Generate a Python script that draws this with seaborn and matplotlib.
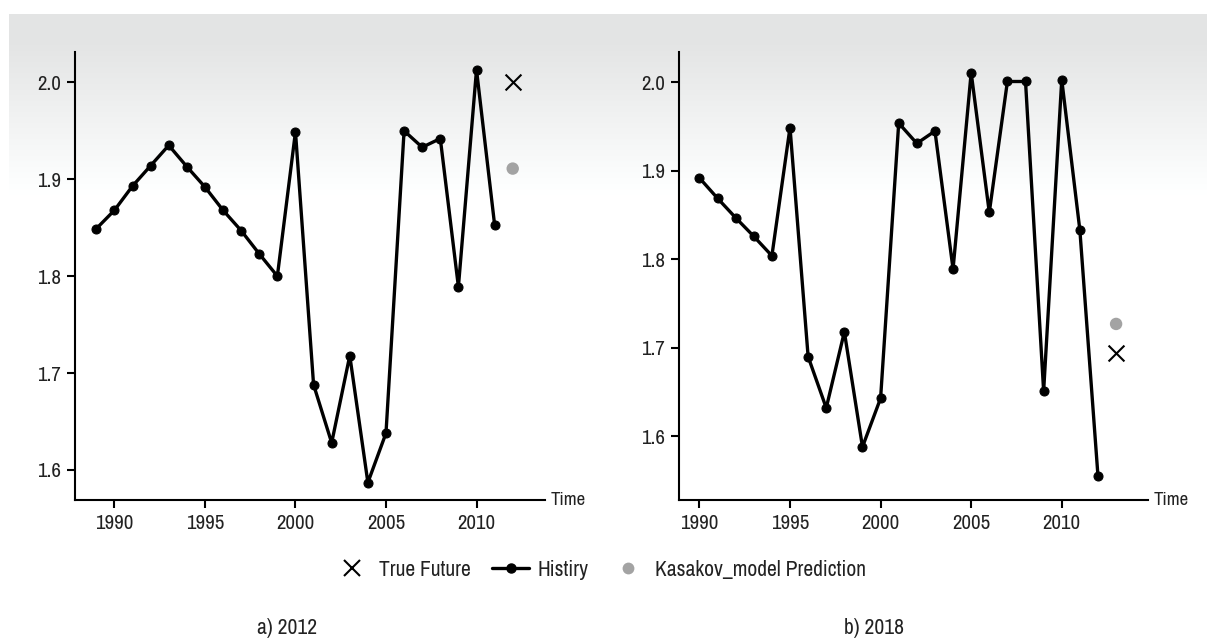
import numpy as np
import pandas as pd
import matplotlib.pyplot as plt
from matplotlib import font_manager as fm
from matplotlib.lines import Line2D
import seaborn as sns

# panel a) 2012
years_a = list(range(1989, 2012))
hist_a = [1.849, 1.868, 1.893, 1.914, 1.935, 1.913, 1.892, 1.868, 1.847, 1.823,
          1.800, 1.949, 1.688, 1.628, 1.718, 1.587, 1.638, 1.950, 1.933, 1.942,
          1.789, 2.013, 1.853]
future_year_a = 2012
true_a = 2.000
pred_a = 1.911

# panel b) 2018
years_b = list(range(1990, 2013))
hist_b = [1.892, 1.869, 1.847, 1.826, 1.804, 1.949, 1.690, 1.632, 1.718, 1.588,
          1.643, 1.954, 1.931, 1.945, 1.789, 2.011, 1.853, 2.001, 2.001, 1.651,
          2.003, 1.833, 1.555]
future_year_b = 2013
true_b = 1.694
pred_b = 1.727

captions = ["a) 2012", "b) 2018"]
legend_labels = ["True Future", "Histiry", "Kasakov_model Prediction"]
y_ticks = [1.6, 1.7, 1.8, 1.9, 2.0]
x_ticks = [1990, 1995, 2000, 2005, 2010]

sns.set_theme(style="ticks")

# look for a narrow / condensed face among the installed fonts
narrow = None
for f in fm.fontManager.ttflist:
    name = f.name.lower()
    if 'narrow' in name or 'condensed' in name:
        narrow = f.name
        break
if narrow is None:
    for f in fm.fontManager.ttflist:
        if f.stretch in ('condensed', 'semi-condensed', 'extra-condensed') and f.weight in (400, 'normal', 'regular'):
            narrow = f.name
            plt.rcParams['font.stretch'] = f.stretch
            break
plt.rcParams['font.family'] = [narrow or 'DejaVu Sans', 'DejaVu Sans']

W, H = 1207, 638
fig = plt.figure(figsize=(W / 100, H / 100), dpi=100)

# grey-to-white band at the top
bg = fig.add_axes([9 / W, 1 - 195 / H, 1 - 9 / W, 181 / H], zorder=0)
grad = np.concatenate([np.full(50, 0.893), np.linspace(0.893, 1.0, 256)])
rgb = np.stack([grad, grad + 0.004, grad + 0.004], axis=1).clip(0, 1)[:, None, :]
bg.imshow(rgb, aspect='auto', extent=[0, 1, 0, 1])
bg.axis('off')

panels = [
    dict(rect=[74.6 / W, 138 / H, 470.7 / W, 447.7 / H], years=years_a, hist=hist_a,
         fy=future_year_a, true=true_a, pred=pred_a, xlim=(1987.8, 2013.8),
         ylim=(1.569, 2.031), cap_x=287 / W),
    dict(rect=[678.6 / W, 138 / H, 469.2 / W, 447.7 / H], years=years_b, hist=hist_b,
         fy=future_year_b, true=true_b, pred=pred_b, xlim=(1988.85, 2014.75),
         ylim=(1.528, 2.034), cap_x=874 / W),
]

for p, cap in zip(panels, captions):
    ax = fig.add_axes(p['rect'], zorder=2)
    ax.set_facecolor('none')
    df = pd.DataFrame({'year': p['years'], 'value': p['hist']})
    sns.lineplot(data=df, x='year', y='value', ax=ax, color='black', lw=2.4,
                 marker='o', markersize=6.5, markeredgecolor='black')
    sns.scatterplot(x=[p['fy']], y=[p['pred']], ax=ax, color='#a3a3a3', s=80,
                    edgecolor='none')
    sns.scatterplot(x=[p['fy']], y=[p['true']], ax=ax, color='black', marker='x',
                    s=130, linewidth=1.5)
    ax.set_xlim(*p['xlim'])
    ax.set_ylim(*p['ylim'])
    ax.set_xticks(x_ticks)
    ax.set_yticks(y_ticks)
    ax.set_yticklabels([f"{v:.1f}" for v in y_ticks])
    ax.set_xlabel('')
    ax.set_ylabel('')
    sns.despine(ax=ax)
    for s in ['left', 'bottom']:
        ax.spines[s].set_linewidth(1.5)
        ax.spines[s].set_color('black')
    ax.tick_params(axis='both', length=6, width=1.5, color='black',
                   labelsize=15, labelcolor='#222222', pad=4)
    ax.text(1.012, 0.0, 'Time', transform=ax.transAxes, ha='left', va='center',
            fontsize=13.5, color='#222222')
    fig.text(p['cap_x'], 10 / H, cap, ha='center', va='center', fontsize=15.5,
             color='#222222')

handles = [
    Line2D([], [], ls='none', marker='x', color='black', markersize=11, mew=1.5),
    Line2D([], [], color='black', lw=2.4, marker='o', markersize=6.5),
    Line2D([], [], ls='none', marker='o', color='#a3a3a3', markersize=8.5,
           markeredgecolor='none'),
]
fig.legend(handles, legend_labels, loc='center', bbox_to_anchor=(600 / W, 1 - 570 / H),
           ncol=3, frameon=False, fontsize=15.5, handlelength=1.7, handletextpad=0.4,
           columnspacing=1.0, labelcolor='#222222')

fig.savefig('out.png', dpi=100)
